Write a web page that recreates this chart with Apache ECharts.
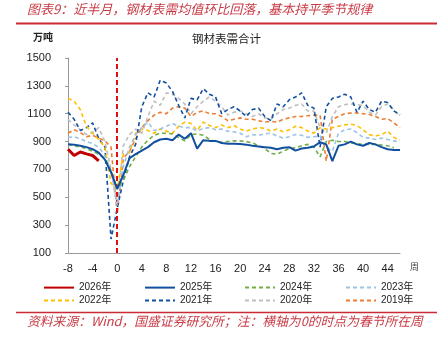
<!DOCTYPE html>
<html>
<head>
<meta charset="utf-8">
<script src="https://cdn.jsdelivr.net/npm/echarts@6/dist/echarts.min.js"></script>
<style>
html,body{margin:0;padding:0;background:#fff;}
#c{width:440px;height:337px;}
</style>
</head>
<body>
<div id="c"></div>
<script>
const weeks = [];
for (let w = -8; w <= 46; w++) weeks.push(String(w));
const xTickLabels = ['-8','-4','0','4','8','12','16','20','24','28','32','36','40','44'];
const yTicks = [100, 300, 500, 700, 900, 1100, 1300, 1500];

const seriesNames = ['2026年','2025年','2024年','2023年','2022年','2021年','2020年','2019年'];

const y2026 = [845,800,825,812,800,762];
const y2025 = [880,878,870,860,845,820,770,680,
  560,660,780,810,835,860,895,915,920,910,
  950,920,960,850,910,905,905,890,885,885,
  882,878,870,865,860,855,845,855,860,835,
  850,855,865,895,880,760,870,880,900,880,
  870,890,880,860,845,840,840];
const y2024 = [880,870,860,850,830,810,780,690,
  560,620,720,790,860,910,945,960,960,955,
  930,905,950,955,945,915,900,895,900,905,
  905,900,890,870,850,815,810,830,850,855,
  870,880,860,790,900,910,900,900,890,885,
  880,880,880,875,870,855,null];
const y2023 = [930,935,920,900,885,860,800,690,
  440,720,860,950,1000,1040,980,990,1010,1030,
  1010,1000,1000,975,995,1000,985,990,975,970,
  960,935,950,945,955,960,940,925,935,950,
  945,930,935,940,860,830,960,985,990,965,
  930,925,915,925,915,905,895];
const y2022 = [1210,1190,1130,1010,960,915,860,600,
  560,810,820,960,990,980,960,990,975,960,
  1010,1040,1030,980,1040,1015,1000,1020,1000,1015,
  990,975,990,1000,995,975,990,970,985,1010,
  1000,975,960,1000,990,1000,1010,1020,1025,1015,
  985,950,940,950,975,930,910];
const y2021 = [1110,1060,980,1000,1035,920,860,200,
  420,620,790,880,1150,1250,1220,1340,1320,1260,
  1160,1070,1210,1200,1280,1240,1220,1100,1130,1150,
  1120,1080,1130,1140,1080,1050,1170,1150,1200,1220,
  1250,1160,1140,860,1150,1210,1220,1240,1220,1110,
  1190,1130,1110,1190,1180,1120,1090];
const y2020 = [1060,1020,985,950,965,1000,900,700,
  450,870,950,990,960,1080,1190,1160,1250,1240,
  1210,1170,1100,1150,1190,1220,1190,1150,1090,1110,
  1120,1100,1080,1100,1070,1060,1100,1130,1140,1160,
  1170,1120,1120,1000,960,1080,1150,1165,1170,1165,
  1160,1110,1090,1150,1170,1130,1080];
const y2019 = [960,985,965,935,945,925,905,860,
  380,780,830,920,1000,1050,1090,1110,1100,1140,
  1150,1140,1080,1110,1120,1100,1100,1080,1050,1060,
  1070,1060,1060,1050,1040,1045,1040,1060,1070,1080,
  1080,1085,1090,1090,760,1060,1080,1100,1105,1105,
  1100,1095,1080,1060,1065,1035,1000];

const dataByName = {
  '2026年': y2026, '2025年': y2025, '2024年': y2024, '2023年': y2023,
  '2022年': y2022, '2021年': y2021, '2020年': y2020, '2019年': y2019
};
const styles = {
  '2026年': {color:'#c00000', width:3, type:'solid'},
  '2025年': {color:'#1150a0', width:2, type:'solid'},
  '2024年': {color:'#70ad47', width:1.6, type:[4,3]},
  '2023年': {color:'#9dc3e6', width:1.6, type:[4,3]},
  '2022年': {color:'#ffc000', width:1.6, type:[4,3]},
  '2021年': {color:'#1150a0', width:1.6, type:[4,3]},
  '2020年': {color:'#bfbfbf', width:1.6, type:[4,3]},
  '2019年': {color:'#ed7d31', width:1.6, type:[4,3]}
};
const drawOrder = ['2019年','2020年','2021年','2022年','2023年','2024年','2025年','2026年'];

const series = drawOrder.map((n, i) => ({
  name: n, type: 'line', data: dataByName[n], symbol: 'none',
  lineStyle: {color: styles[n].color, width: styles[n].width, type: styles[n].type},
  itemStyle: {color: styles[n].color},
  z: 2 + i, animation: false
}));
series.push({
  name: 'marker', type: 'line', data: [], symbol: 'none',
  markLine: {
    silent: true, symbol: 'none', label: {show: false},
    lineStyle: {color: '#e01010', width: 2, type: [5,3]},
    data: [{xAxis: '0'}]
  }
});

const legendLeft = [43, 144, 244, 345];
const legends = seriesNames.map((n, i) => ({
  data: [n], left: legendLeft[i % 4], top: i < 4 ? 282 : 295,
  itemWidth: 30, itemHeight: 14, itemGap: 0, padding: 0,
  itemStyle: {opacity: 0},
  textStyle: {fontSize: 10, color: '#222', fontFamily: 'Liberation Sans, Noto Sans CJK SC'},
  selectedMode: false
}));

const chart = echarts.init(document.getElementById('c'), null, {renderer: 'canvas'});
chart.setOption({
  animation: false,
  backgroundColor: '#fff',
  grid: {left: 68, right: 40, top: 58, bottom: 84},
  legend: legends,
  xAxis: {
    type: 'category', data: weeks, boundaryGap: false,
    axisLine: {lineStyle: {color: '#999', width: 1}},
    axisTick: {show: false},
    axisLabel: {
      interval: 0, margin: 10, fontSize: 11, color: '#222', fontFamily: 'Liberation Sans',
      formatter: v => xTickLabels.indexOf(v) >= 0 ? v : ''
    },
    splitLine: {show: false}
  },
  yAxis: {
    type: 'value', min: yTicks[0], max: yTicks[yTicks.length - 1], interval: 200,
    axisLine: {show: true, lineStyle: {color: '#999', width: 1}},
    axisTick: {show: true, length: 3, lineStyle: {color: '#999'}},
    axisLabel: {margin: 17, fontSize: 11, color: '#222', fontFamily: 'Liberation Sans', formatter: v => String(v)},
    splitLine: {show: false}
  },
  series: series,
  graphic: [
    {type: 'text', left: 27, top: 3, style: {text: '图表9：近半月，钢材表需均值环比回落，基本持平季节规律', font: 'italic 13px "Noto Sans CJK SC"', fill: '#c83c46'}},
    {type: 'line', shape: {x1: 16, y1: 23.5, x2: 437, y2: 23.5}, style: {stroke: '#cc2a36', lineWidth: 2}},
    {type: 'text', left: 33, top: 32, style: {text: '万吨', font: 'bold 10px "Noto Sans CJK SC"', fill: '#222'}},
    {type: 'text', left: 192, top: 33, style: {text: '钢材表需合计', font: '11.5px "Noto Sans CJK SC"', fill: '#222'}},
    {type: 'text', left: 410, top: 262, style: {text: '周', font: '9px "Noto Sans CJK SC"', fill: '#444'}},
    {type: 'line', shape: {x1: 16, y1: 312.5, x2: 437, y2: 312.5}, style: {stroke: '#cc2a36', lineWidth: 1.5}},
    {type: 'text', left: 27, top: 315, style: {text: '资料来源：Wind，国盛证券研究所；注：横轴为0的时点为春节所在周', font: 'italic 12.8px "Noto Sans CJK SC"', fill: '#c83c46'}}
  ]
});
</script>
</body>
</html>
